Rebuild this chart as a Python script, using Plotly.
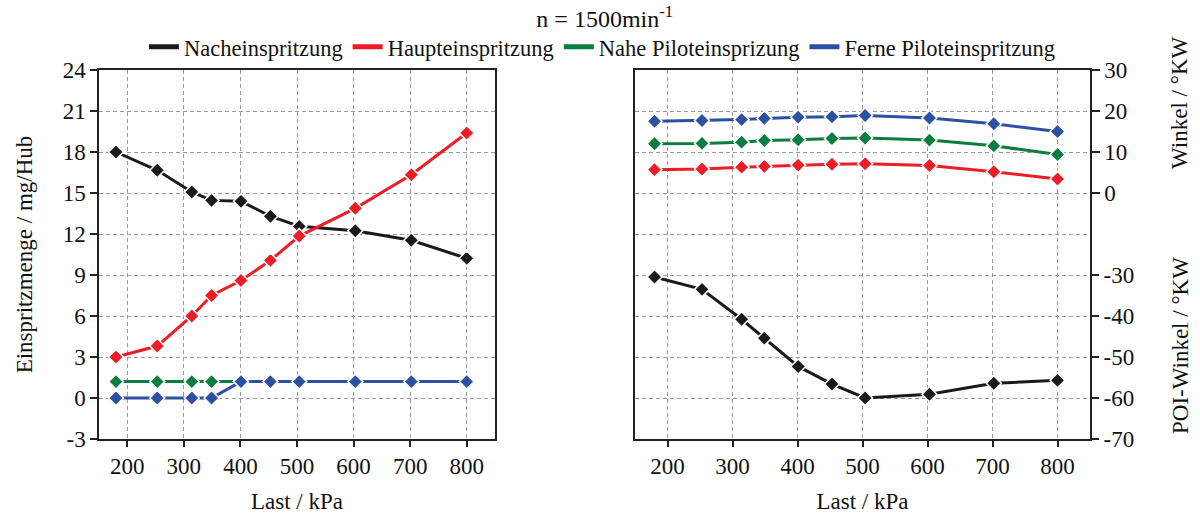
import plotly.graph_objects as go

# ---- data ----
last_kpa = [180, 253, 314, 349, 401, 453, 504, 603, 702, 800]

menge_nach = [18.0, 16.66, 15.07, 14.46, 14.39, 13.3, 12.56, 12.24, 11.54, 10.22]
menge_haupt = [3.0, 3.8, 6.0, 7.5, 8.6, 10.07, 11.85, 13.88, 16.34, 19.39]
menge_nahe = [1.2, 1.2, 1.2, 1.2, 1.2, 1.2, 1.2, 1.2, 1.2, 1.2]
menge_ferne = [0.0, 0.0, 0.0, 0.0, 1.2, 1.2, 1.2, 1.2, 1.2, 1.2]

winkel_haupt = [5.7, 5.85, 6.3, 6.5, 6.8, 7.0, 7.15, 6.7, 5.2, 3.4]
winkel_nahe = [12.0, 12.1, 12.4, 12.8, 13.0, 13.3, 13.4, 12.9, 11.5, 9.4]
winkel_ferne = [17.5, 17.7, 17.9, 18.2, 18.5, 18.6, 18.9, 18.3, 16.9, 15.0]
poi_nach = [-30.5, -33.5, -40.8, -45.4, -52.3, -56.6, -60.0, -59.1, -56.4, -55.7]

names = ["Nacheinspritzung", "Haupteinspritzung", "Nahe Piloteinsprizung", "Ferne Piloteinspritzung"]
colors = ["#1a1a1a", "#ee1d25", "#0b7d3e", "#2d50a3"]

x_ticks = [200, 300, 400, 500, 600, 700, 800]
left_ticks = [-3, 0, 3, 6, 9, 12, 15, 18, 21, 24]
winkel_ticks = [0, 10, 20, 30]
winkel_grid = [-60, -50, -40, -30, -20, -10]
poi_ticks = [-70, -60, -50, -40, -30]

FONT = "Liberation Serif"
FS = 23
TXT = "#111111"
GRID = "#9a9a9a"
LINE = "#222222"
f = dict(family=FONT, size=FS, color=TXT)

fig = go.Figure()

def add(x, y, color, xa, ya):
    fig.add_trace(go.Scatter(
        x=x, y=y, xaxis=xa, yaxis=ya, mode="lines+markers", showlegend=False,
        line=dict(color=color, width=3),
        marker=dict(symbol="diamond", size=11.5, color=color, line=dict(color="white", width=1.5)),
    ))

# left panel
add(last_kpa, menge_nach, colors[0], "x", "y")
add(last_kpa, menge_haupt, colors[1], "x", "y")
add(last_kpa, menge_nahe, colors[2], "x", "y")
add(last_kpa, menge_ferne, colors[3], "x", "y")
# right panel
add(last_kpa, poi_nach, colors[0], "x2", "y3")
add(last_kpa, winkel_haupt, colors[1], "x2", "y2")
add(last_kpa, winkel_nahe, colors[2], "x2", "y2")
add(last_kpa, winkel_ferne, colors[3], "x2", "y2")

# legend-only entries (line symbols)
for n, c in zip(names, colors):
    fig.add_trace(go.Scatter(x=[None], y=[None], mode="lines", name=n,
                             line=dict(color=c, width=5), showlegend=True))

axis_common = dict(
    showline=True, linecolor=LINE, linewidth=1.5, mirror=True,
    ticks="outside", tickcolor=LINE, tickwidth=1.5,
    showgrid=True, gridcolor=GRID, gridwidth=1, griddash="4px,3px",
    zeroline=False, tickfont=f, automargin=False,
)

fig.update_layout(
    width=1200, height=515,
    margin=dict(l=99, r=110, t=70, b=76),
    paper_bgcolor="white", plot_bgcolor="white",
    font=f,
    title=dict(text="n = 1500min<sup>-1</sup>", x=0.504, xanchor="center",
               y=1 - 19 / 515, yanchor="middle", font=dict(family=FONT, size=24, color=TXT)),
    legend=dict(orientation="h", x=0.508, xanchor="center", y=1.062, yanchor="middle",
                font=dict(family=FONT, size=22.5, color=TXT), itemwidth=30, tracegroupgap=0,
                bgcolor="rgba(0,0,0,0)"),
    xaxis=dict(domain=[0, 0.3996], range=[150, 850], tickvals=x_ticks, ticklen=6,
               title=dict(text="Last / kPa", standoff=15, font=f), **axis_common),
    yaxis=dict(range=[-3, 24], tickvals=left_ticks, ticktext=[str(v) for v in left_ticks],
               ticklen=7, title=dict(text="Einspritzmenge / mg/Hub", standoff=24, font=f),
               **axis_common),
    xaxis2=dict(domain=[0.5409, 1.0], range=[150, 850], tickvals=x_ticks, ticklen=6, anchor="y2",
                title=dict(text="Last / kPa", standoff=15, font=f), **axis_common),
    yaxis2=dict(anchor="x2", side="right", range=[-60, 30], tickvals=winkel_ticks, ticklen=8,
                minor=dict(tickmode="array", tickvals=winkel_grid, showgrid=True, gridcolor=GRID,
                           gridwidth=1, griddash="4px,3px", ticks=""),
                **axis_common),
    yaxis3=dict(anchor="x2", overlaying="y2", side="right", range=[-70, 20], tickvals=poi_ticks,
                ticktext=[str(v) for v in poi_ticks], ticks="outside", ticklen=8,
                tickcolor=LINE, tickwidth=1.5, showgrid=False, showline=False, zeroline=False,
                tickfont=f, automargin=False),
)

fig.add_annotation(text="Winkel / °KW", textangle=-90, xref="paper", yref="paper",
                   x=1.0908, y=0.9106, xanchor="center", yanchor="middle",
                   showarrow=False, font=f)
fig.add_annotation(text="POI-Winkel / °KW", textangle=-90, xref="paper", yref="paper",
                   x=1.0908, y=0.2547, xanchor="center", yanchor="middle",
                   showarrow=False, font=f)

fig.write_html("out.html")
